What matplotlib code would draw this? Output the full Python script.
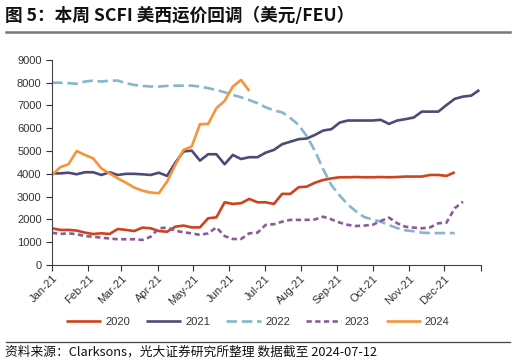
import matplotlib
matplotlib.use("Agg")
import matplotlib.pyplot as plt
import matplotlib.dates as mdates
import pandas as pd
import numpy as np

plt.rcParams['font.family'] = ['Liberation Sans', 'Noto Sans CJK SC', 'DejaVu Sans']

series_2020 = [1610, 1540, 1540, 1510, 1420, 1360, 1390, 1360, 1580, 1540, 1490, 1640, 1610,
               1490, 1460, 1680, 1730, 1650, 1650, 2050, 2090, 2750, 2680, 2710, 2900, 2750,
               2750, 2680, 3120, 3120, 3410, 3440, 3610, 3730, 3800, 3850, 3850, 3860, 3850,
               3850, 3860, 3850, 3860, 3880, 3880, 3880, 3950, 3950, 3910, 4070]
series_2021 = [4020, 4020, 4050, 3980, 4070, 4070, 3950, 4070, 3950, 4000, 4000, 3980, 3950,
               4050, 3910, 4490, 4980, 5020, 4580, 4860, 4860, 4420, 4830, 4650, 4730, 4730,
               4930, 5050, 5300, 5410, 5520, 5550, 5710, 5900, 5960, 6250, 6340, 6340, 6340,
               6340, 6370, 6190, 6340, 6400, 6470, 6730, 6730, 6730, 7020, 7290, 7390, 7430, 7680]
series_2022 = [8000, 8000, 7980, 7950, 8050, 8090, 8050, 8090, 8090, 7980, 7900, 7860, 7830,
               7830, 7860, 7870, 7870, 7870, 7830, 7760, 7680, 7580, 7460, 7360, 7240, 7100,
               6920, 6780, 6700, 6450, 6150, 5650, 5000, 4200, 3500, 3050, 2650, 2350, 2100,
               2000, 1900, 1750, 1620, 1520, 1480, 1420, 1400, 1400, 1400, 1400]
series_2023 = [1420, 1360, 1390, 1350, 1270, 1240, 1200, 1160, 1130, 1130, 1130, 1100, 1240,
               1610, 1640, 1510, 1430, 1390, 1320, 1390, 1650, 1270, 1140, 1140, 1390, 1420,
               1760, 1790, 1900, 1980, 1980, 1980, 2000, 2120, 2000, 1860, 1760, 1710, 1730,
               1760, 1930, 2080, 1830, 1680, 1640, 1610, 1650, 1830, 1860, 2490, 2780]
series_2024 = [3950, 4290, 4420, 5000, 4830, 4680, 4240, 4020, 3800, 3610, 3400, 3260, 3180,
               3150, 3660, 4390, 5050, 5200, 6180, 6190, 6880, 7200, 7830, 8120, 7640]

labels = ['2020', '2021', '2022', '2023', '2024']
colors = ['#CC4320', '#4E4A78', '#86B6CC', '#8C5A9A', '#F7943B']
styles = ['-', '-', (0, (4, 1.8)), (0, (2, 1.3)), '-']
all_series = [series_2020, series_2021, series_2022, series_2023, series_2024]

fig = plt.figure(figsize=(5.16, 3.63), dpi=100)
ax = fig.add_axes([0.1008, 0.270, 0.8305, 0.565])

start = pd.Timestamp('2021-01-01')
for vals, lab, col, ls in zip(all_series, labels, colors, styles):
    dates = [start + pd.Timedelta(days=7 * i) for i in range(len(vals))]
    ax.plot(dates, vals, color=col, lw=1.9, ls=ls, label=lab,
            solid_capstyle='butt', dash_capstyle='butt')

ax.set_xlim(pd.Timestamp('2021-01-01'), pd.Timestamp('2022-01-01'))
ax.set_ylim(0, 9000)
ax.set_yticks(range(0, 9001, 1000))
ax.xaxis.set_major_locator(mdates.MonthLocator())
ax.xaxis.set_major_formatter(
    plt.FuncFormatter(lambda v, p: '' if mdates.num2date(v).year == 2022
                      else mdates.num2date(v).strftime('%b-%y')))
for lbl in ax.get_xticklabels():
    lbl.set_rotation(45)
    lbl.set_ha('right')
    lbl.set_rotation_mode('anchor')
ax.tick_params(axis='both', labelsize=8, colors='#333333', length=4, width=0.8, direction='out')
ax.tick_params(axis='x', pad=2)
for s in ['top', 'right']:
    ax.spines[s].set_visible(False)
for s in ['left', 'bottom']:
    ax.spines[s].set_color('#444444')
    ax.spines[s].set_linewidth(0.8)

leg = fig.legend(loc='center', bbox_to_anchor=(0.5, 0.113), ncol=5, frameon=False,
                 fontsize=8, handlelength=3.15, columnspacing=1.45, handletextpad=0.35)
for t in leg.get_texts():
    t.set_color('#333333')

fig.text(0.010, 0.957, '图 5：本周 SCFI 美西运价回调（美元/FEU）', fontsize=12.7, fontweight='bold',
         va='center', ha='left', family=['Noto Sans CJK SC', 'DejaVu Sans'], color='#111111')
fig.add_artist(plt.Line2D([0.012, 0.988], [0.913, 0.913], color='#777777', lw=1.8))
fig.add_artist(plt.Line2D([0.012, 0.988], [0.058, 0.058], color='#444444', lw=0.9))
fig.text(0.010, 0.031, '资料来源：Clarksons，光大证券研究所整理 数据截至 2024-07-12', fontsize=9.2,
         va='center', ha='left', family=['Noto Sans CJK SC', 'DejaVu Sans'], color='#111111')

fig.savefig('out.png', dpi=100)
